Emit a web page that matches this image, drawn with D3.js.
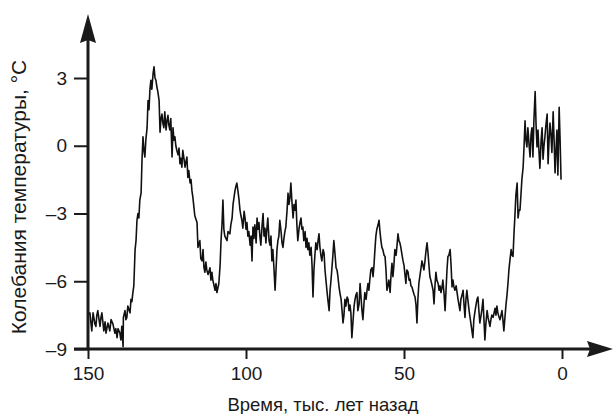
<!DOCTYPE html>
<html><head><meta charset="utf-8">
<script src="https://cdn.jsdelivr.net/npm/d3@7"></script>
<style>
html,body{margin:0;padding:0;background:#fff;}
svg{display:block;}
text{font-family:"Liberation Sans",Arial,sans-serif;fill:#1a1a1a;}
</style></head>
<body><svg id="c" width="613" height="414"></svg>
<script>
// Age, thousand years ago
const ages = [
150.0,149.4,148.8,148.4,147.8,147.5,147.2,146.9,146.2,145.9,
145.6,145.0,144.6,144.3,143.7,143.1,142.7,142.1,141.5,141.2,
140.8,140.5,139.9,139.6,139.3,138.9,138.8,138.3,138.0,137.7,
137.4,136.7,136.4,136.1,135.8,135.5,135.1,134.8,134.5,134.2,
133.9,133.6,133.2,132.9,132.6,132.3,132.0,131.7,131.3,131.0,
130.7,130.4,130.1,129.8,129.4,129.1,128.8,128.5,128.2,127.9,
127.5,127.2,126.9,126.6,126.3,126.0,125.7,125.3,125.0,124.7,
124.4,124.1,123.8,123.4,123.1,122.8,122.5,122.2,121.9,121.5,
121.2,120.9,120.6,120.3,120.0,119.6,119.3,119.0,118.7,118.4,
118.1,117.7,117.4,117.1,116.8,116.2,115.5,115.2,114.6,114.3,
113.9,113.6,113.3,113.0,112.7,112.4,112.0,111.4,111.1,110.8,
110.5,110.1,109.8,109.5,109.2,108.9,108.6,108.2,107.9,107.6,
107.3,107.0,106.7,106.0,105.7,105.1,104.8,104.4,104.1,103.5,
103.2,102.9,102.5,102.2,101.9,101.6,101.3,101.0,100.6,100.3,
100.0,99.7,99.4,99.1,98.7,98.4,98.1,97.8,97.5,97.2,
96.8,96.5,96.2,95.9,95.6,95.3,94.9,94.6,94.3,94.0,
93.7,93.4,93.1,92.7,92.4,92.1,91.8,91.5,91.2,90.8,
90.5,90.2,89.9,89.6,89.3,88.9,88.6,88.3,88.0,87.7,
87.4,87.0,86.7,86.4,86.1,85.8,85.5,85.1,84.8,84.5,
84.2,83.9,83.6,83.2,82.9,82.6,82.3,82.0,81.7,81.3,
81.0,80.7,80.4,80.1,79.8,79.4,79.1,78.8,78.5,78.2,
77.9,77.5,77.2,76.9,76.6,76.3,76.0,75.6,75.3,75.0,
74.7,74.4,74.1,73.7,73.4,73.1,72.8,72.5,72.2,71.8,
71.5,71.2,70.9,70.6,70.3,69.9,69.6,69.3,69.0,68.7,
68.4,68.0,67.7,67.4,67.1,66.8,66.5,66.1,65.8,65.5,
65.2,64.9,64.6,64.2,63.9,63.6,63.3,63.0,62.7,62.4,
62.0,61.7,61.4,61.1,60.8,60.5,60.1,59.8,59.5,59.2,
58.9,58.6,58.2,57.9,57.6,57.3,57.0,56.7,56.3,56.0,
55.7,55.4,55.1,54.8,54.4,54.1,53.8,53.5,53.2,52.9,
52.5,52.2,51.9,51.6,51.3,51.0,50.6,50.3,50.0,49.7,
49.4,49.1,48.7,48.4,48.1,47.8,47.5,47.2,46.8,46.5,
46.2,45.9,45.6,45.3,44.9,44.6,44.3,44.0,43.7,43.4,
43.0,42.7,42.4,42.1,41.8,41.5,41.1,40.8,40.5,40.2,
39.9,39.6,39.2,38.9,38.6,38.3,38.0,37.7,37.3,37.0,
36.7,36.4,36.1,35.8,35.4,35.1,34.8,34.5,34.2,33.9,
33.5,33.2,32.9,32.6,32.3,32.0,31.6,31.3,31.0,30.7,
30.4,30.1,29.8,29.4,29.1,28.8,28.5,28.2,27.9,27.5,
27.2,26.9,26.6,26.3,26.0,25.6,25.3,25.0,24.7,24.4,
24.1,23.7,23.4,23.1,22.8,22.5,22.2,21.8,21.5,21.2,
20.9,20.6,20.3,19.9,19.6,19.3,19.0,18.7,18.4,18.0,
17.7,17.4,17.1,16.8,16.5,16.1,15.8,15.5,15.2,14.9,
14.6,14.2,13.9,13.6,13.3,13.0,12.7,12.3,12.0,11.7,
11.4,11.1,10.8,10.4,10.1,9.8,9.5,9.2,8.9,8.5,
8.2,7.9,7.6,7.3,7.0,6.6,6.3,6.0,5.7,5.4,
5.1,4.7,4.4,4.1,3.8,3.5,3.2,2.8,2.5,2.2,
1.9,1.6,1.3,0.9,0.6,0.3
];
// Temperature anomaly, °C
const temps = [
-7.5,-7.4,-8.2,-7.4,-7.9,-8.0,-7.5,-7.3,-8.0,-7.6,
-7.4,-8.2,-7.8,-8.3,-7.85,-8.2,-7.7,-7.9,-8.3,-8.1,
-8.5,-8.1,-8.3,-8.6,-8.0,-8.9,-7.6,-7.3,-7.7,-7.6,
-7.1,-7.4,-6.8,-6.9,-6.5,-6.2,-4.6,-4.2,-3.3,-3.0,
-3.2,-2.4,-2.1,-0.6,0.4,-0.2,-0.5,0.25,0.8,2.0,
1.6,2.5,2.9,2.5,3.2,3.5,3.0,2.9,2.6,2.4,
2.0,0.6,1.2,1.4,1.0,0.8,1.5,0.7,1.1,1.35,
0.9,0.7,1.2,-0.5,0.8,0.25,0.4,0.0,-0.2,-0.4,
-0.1,-0.8,-0.55,-0.95,-0.2,-0.6,-0.95,-0.7,-0.5,-1.4,
-1.1,-1.65,-1.5,-2.0,-2.3,-3.1,-3.4,-4.5,-4.2,-5.0,
-5.1,-4.6,-5.4,-5.6,-5.15,-5.5,-5.7,-5.4,-5.95,-5.6,
-5.95,-6.2,-6.4,-6.1,-6.5,-6.3,-6.1,-5.3,-4.2,-3.5,
-2.4,-3.7,-4.0,-4.2,-3.8,-3.9,-3.5,-3.2,-2.6,-2.0,
-1.8,-1.65,-2.05,-2.4,-2.85,-3.1,-3.3,-3.65,-2.9,-3.2,
-3.7,-3.4,-4.0,-3.8,-4.4,-4.0,-5.1,-3.6,-4.1,-3.5,
-4.3,-3.2,-3.7,-3.4,-4.0,-4.4,-3.5,-3.0,-4.0,-3.65,
-4.3,-3.7,-3.2,-4.2,-4.4,-4.0,-5.1,-4.6,-5.3,-6.4,
-5.5,-4.6,-4.2,-4.0,-3.3,-3.8,-4.3,-4.5,-4.1,-3.8,
-3.6,-2.85,-2.1,-2.6,-2.3,-1.65,-2.4,-3.2,-2.6,-2.85,
-2.4,-3.5,-4.2,-3.65,-3.4,-3.2,-3.7,-3.6,-4.2,-3.8,
-4.5,-4.1,-4.6,-4.3,-4.85,-4.5,-5.3,-6.7,-5.5,-4.85,
-4.3,-4.6,-4.2,-3.9,-4.5,-4.85,-5.1,-4.6,-4.75,-5.5,
-5.95,-6.4,-6.8,-7.3,-6.4,-5.95,-5.4,-4.85,-4.2,-4.85,
-5.4,-5.5,-5.8,-6.2,-6.5,-6.8,-7.3,-7.85,-7.5,-6.8,
-7.1,-6.7,-6.8,-7.3,-7.05,-7.4,-8.5,-7.7,-7.1,-6.8,
-6.6,-6.5,-7.3,-7.0,-6.1,-6.7,-7.3,-7.7,-7.05,-6.5,
-6.8,-6.4,-6.1,-6.4,-5.9,-5.5,-5.4,-5.8,-5.3,-4.6,
-4.0,-3.7,-3.5,-3.3,-3.8,-4.2,-4.5,-4.6,-4.85,-4.9,
-5.5,-6.4,-6.2,-5.95,-6.5,-5.7,-5.2,-5.8,-5.3,-4.6,
-4.85,-4.4,-3.9,-4.2,-4.3,-4.5,-4.85,-5.1,-5.3,-5.7,
-6.1,-5.5,-5.6,-5.95,-5.9,-6.2,-6.25,-6.4,-6.6,-6.7,
-7.05,-7.85,-6.8,-6.1,-5.7,-5.4,-5.1,-5.3,-5.5,-5.15,
-4.6,-4.3,-4.75,-5.3,-5.8,-5.95,-6.2,-6.4,-7.0,-6.2,
-5.6,-5.95,-6.1,-6.4,-6.2,-6.5,-6.3,-5.95,-6.6,-7.3,
-6.4,-5.5,-4.9,-4.85,-4.6,-5.3,-6.25,-5.95,-6.25,-6.4,
-6.2,-6.5,-6.8,-7.05,-7.3,-6.8,-6.6,-6.4,-7.05,-7.6,
-6.8,-6.4,-6.8,-7.3,-7.6,-7.9,-8.2,-8.5,-7.7,-7.3,
-7.05,-6.8,-6.7,-7.3,-7.85,-7.5,-7.2,-6.8,-7.7,-8.6,
-7.9,-7.3,-7.6,-7.8,-8.0,-7.7,-7.5,-7.6,-7.4,-7.2,
-7.5,-7.1,-7.4,-7.6,-7.7,-7.5,-7.3,-7.7,-8.2,-7.5,
-7.0,-6.6,-6.1,-5.5,-5.1,-4.6,-4.85,-4.9,-3.9,-3.1,
-2.2,-1.65,-3.2,-2.85,-2.85,-2.2,-1.5,-0.95,0.0,1.1,
0.25,-0.05,0.8,0.0,-0.5,0.5,0.8,-0.5,1.1,2.4,
0.9,-0.05,0.7,-0.2,-1.0,0.25,0.8,-0.6,0.0,0.4,
0.9,1.4,-0.8,0.25,1.0,0.5,-0.3,1.5,0.25,-1.2,
-0.2,0.7,-1.3,1.7,0.25,-1.5
];
const xTicks = [150, 100, 50, 0];
const yTicks = [-9, -6, -3, 0, 3];
const xLabel = "Время, тыс. лет назад";
const yLabel = "Колебания температуры, °С";

const svg = d3.select("#c");
const x = d3.scaleLinear().domain([150, 0]).range([88, 562]);
const y = d3.scaleLinear().domain([-9, 3]).range([349, 78]);

const n = Math.min(ages.length, temps.length);
const data = d3.range(n).map(i => ({a: ages[i], t: temps[i]}));

// data line
svg.append("path")
  .datum(data)
  .attr("fill", "none")
  .attr("stroke", "#111")
  .attr("stroke-width", 1.6)
  .attr("stroke-linejoin", "round")
  .attr("d", d3.line().x(d => x(d.a)).y(d => y(d.t)));

// y axis ticks + labels
const yAx = svg.append("g").attr("transform", `translate(${x(150)},0)`)
  .call(d3.axisLeft(y).tickValues(yTicks).tickSize(14).tickPadding(7)
    .tickFormat(d => d < 0 ? "\u2013" + Math.abs(d) : String(d)));
yAx.select(".domain").remove();
yAx.selectAll(".tick line").attr("stroke", "#1a1a1a").attr("stroke-width", 2);
yAx.selectAll(".tick text").style("font-size", "19px").attr("fill", "#1a1a1a")
  .style("font-family", "'Liberation Sans', Arial, sans-serif");

// x axis ticks + labels
const xAx = svg.append("g").attr("transform", `translate(0,${y(-9)})`)
  .call(d3.axisBottom(x).tickValues(xTicks).tickSize(10).tickPadding(8).tickFormat(d3.format("d")));
xAx.select(".domain").remove();
xAx.selectAll(".tick line").attr("stroke", "#1a1a1a").attr("stroke-width", 2);
xAx.selectAll(".tick text").style("font-size", "19px").attr("fill", "#1a1a1a")
  .style("font-family", "'Liberation Sans', Arial, sans-serif");

// axis lines with arrows
const x0 = x(150), y0 = y(-9);
svg.append("line").attr("x1", x0).attr("x2", x0).attr("y1", y0 + 1).attr("y2", 40)
  .attr("stroke", "#1a1a1a").attr("stroke-width", 3);
svg.append("path").attr("d", `M${x0},14 L${x0 + 8},43 L${x0},40 L${x0 - 8},43 Z`).attr("fill", "#1a1a1a");
svg.append("line").attr("x1", x0 - 14).attr("x2", 592).attr("y1", y0).attr("y2", y0)
  .attr("stroke", "#1a1a1a").attr("stroke-width", 3);
svg.append("path").attr("d", `M613,${y0} L587,${y0 - 8} L590,${y0} L587,${y0 + 8} Z`).attr("fill", "#1a1a1a");

// axis titles
svg.append("text").attr("x", 323).attr("y", 411).attr("text-anchor", "middle")
  .style("font-size", "18.5px").text(xLabel);
svg.append("text").attr("transform", "translate(26,197) rotate(-90)").attr("text-anchor", "middle")
  .style("font-size", "21px").text(yLabel);
</script>
</body></html>
